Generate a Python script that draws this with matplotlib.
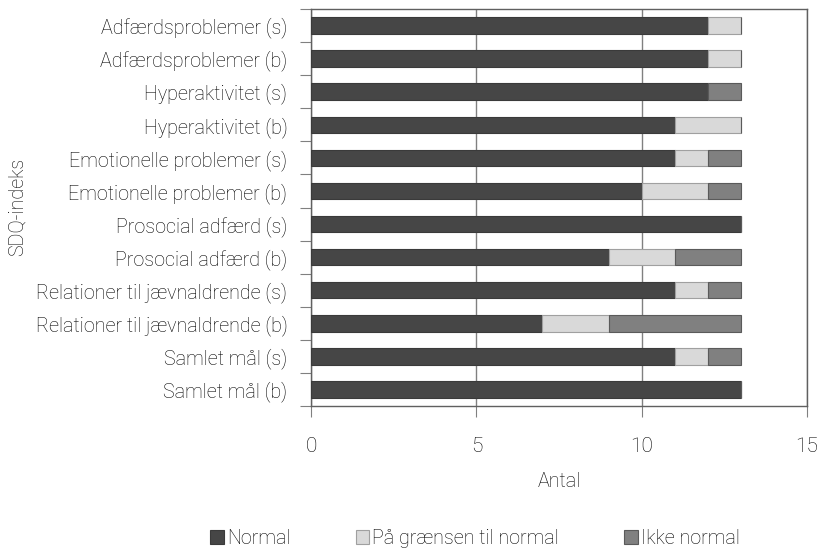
import matplotlib
matplotlib.use("Agg")
import matplotlib.pyplot as plt
import numpy as np
from matplotlib.patches import Patch

categories = ["Adfærdsproblemer (s)", "Adfærdsproblemer (b)", "Hyperaktivitet (s)",
              "Hyperaktivitet (b)", "Emotionelle problemer (s)", "Emotionelle problemer (b)",
              "Prosocial adfærd (s)", "Prosocial adfærd (b)", "Relationer til jævnaldrende (s)",
              "Relationer til jævnaldrende (b)", "Samlet mål (s)", "Samlet mål (b)"]
normal = [12, 12, 12, 11, 11, 10, 13, 9, 11, 7, 11, 13]
graense = [1, 1, 0, 2, 1, 2, 0, 2, 1, 2, 1, 0]
ikke = [0, 0, 1, 0, 1, 1, 0, 2, 1, 4, 1, 0]
series_names = ["Normal", "På grænsen til normal", "Ikke normal"]
colors = ["#464646", "#d9d9d9", "#808080"]
edges = ["#3a3a3a", "#a0a0a0", "#5a5a5a"]

plt.rcParams['font.family'] = ['Roboto', 'DejaVu Sans']
FW = 'light'
FS = 14.2
TC = "#000000"
fig = plt.figure(figsize=(8.18, 5.48), dpi=100)
ax = fig.add_axes([311/818, 1-406/548, (807-311)/818, (406-9)/548])

n = len(categories)
y = np.arange(n)[::-1]
left = np.zeros(n)
for vals, c, ec, name in zip([normal, graense, ikke], colors, edges, series_names):
    v = np.array(vals, dtype=float)
    ax.barh(y, v, left=left, height=0.5, color=c, edgecolor=ec, linewidth=0.8, label=name, zorder=3)
    left += v

ax.set_xlim(0, 15)
ax.set_ylim(-0.5, n-0.5)
ax.set_xticks([0, 5, 10, 15])
ax.set_xticklabels(["0", "5", "10", "15"], fontsize=15, fontweight=FW, color=TC)
ax.set_yticks(y)
ax.set_yticklabels(categories, fontsize=FS, fontweight=FW, color=TC)
ax.tick_params(axis='y', length=0, pad=17)
ax.set_yticks(np.arange(-0.5, n, 1), minor=True)
ax.tick_params(axis='y', which='minor', length=8, color="#808080", width=0.8)
ax.tick_params(axis='x', length=8, color="#808080", width=0.8, pad=14)
ax.xaxis.grid(True, color="#808080", linewidth=1.0, zorder=0)
for s in ax.spines.values():
    s.set_color("#606060")
    s.set_linewidth(1.0)
ax.set_xlabel("Antal", fontsize=FS, fontweight=FW, labelpad=12, color=TC)
fig.text(17/818, 1-207/548, "SDQ-indeks", rotation=90, fontsize=FS, fontweight=FW,
         ha='center', va='center', color=TC)

handles = [Patch(facecolor=c, edgecolor=ec, linewidth=0.8) for c, ec in zip(colors, edges)]
leg = fig.legend(handles, series_names, loc='center', bbox_to_anchor=(475/818, 1-538/548), ncol=3,
           frameon=False, handlelength=0.7, handleheight=0.7, handletextpad=0.15,
           columnspacing=3.3, prop={'weight': FW, 'size': FS})
for t in leg.get_texts():
    t.set_color(TC)
fig.savefig("out.png", dpi=100)
